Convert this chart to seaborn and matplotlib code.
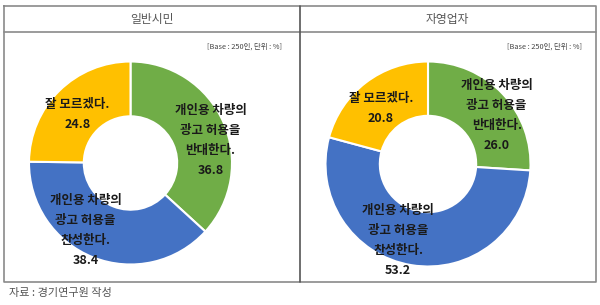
import numpy as np
import matplotlib
matplotlib.use("Agg")
import matplotlib.pyplot as plt
import seaborn as sns

sns.set_theme(style="white")
plt.rcParams['font.family'] = ['Noto Sans CJK KR', 'DejaVu Sans']

# ---- data ----
groups = ["일반시민", "자영업자"]
categories = ["개인용 차량의\n광고 허용을\n반대한다.",
              "개인용 차량의\n광고 허용을\n찬성한다.",
              "잘 모르겠다."]
values_citizen = [36.8, 38.4, 24.8]
values_self = [26.0, 53.2, 20.8]
base_note = "[Base : 250인, 단위 : %]"
source_note = "자료 : 경기연구원 작성"

colors = ["#70AD47", "#4472C4", "#FFC000"]
label_r = [0.82, 0.80, 0.71]
label_dang = [-8, -12, 3]

W, H = 600, 305
fig = plt.figure(figsize=(W / 100, H / 100), dpi=100)
fig.patch.set_facecolor("white")

# background frame axes in pixel coordinates
bg = fig.add_axes([0, 0, 1, 1], zorder=0)
bg.set_xlim(0, W)
bg.set_ylim(H, 0)
bg.axis("off")
lc = "#8a8a8a"
L, R, T, HB, B, MID = 3.5, 595.5, 5.5, 31.5, 282, 299.5
bg.plot([L, R, R, L, L], [T, T, B, B, T], color=lc, lw=1.2)
bg.plot([L, R], [HB, HB], color=lc, lw=1.2)
bg.plot([MID, MID], [T, B], color="#555555", lw=1.2)
bg.text((L + MID) / 2, (T + HB) / 2 + 0.5, groups[0], ha="center", va="center",
        fontsize=8.5, color="#555555")
bg.text((MID + R) / 2, (T + HB) / 2 + 0.5, groups[1], ha="center", va="center",
        fontsize=8.5, color="#555555")
bg.text(282, 47, base_note, ha="right", va="center", fontsize=5.3, color="#444444")
bg.text(582, 47, base_note, ha="right", va="center", fontsize=5.3, color="#444444")
bg.text(9, 293, source_note, ha="left", va="center", fontsize=8, color="#555555")


def donut(cx, cy, rad, vals, hole):
    ax = fig.add_axes([(cx - rad) / W, (H - cy - rad) / H, 2 * rad / W, 2 * rad / H], zorder=2)
    wedges, _ = ax.pie(vals, colors=colors, startangle=90, counterclock=False, radius=1,
                       wedgeprops=dict(width=1 - hole, edgecolor="white", linewidth=1.5))
    ax.set_xlim(-1, 1)
    ax.set_ylim(-1, 1)
    ax.set_aspect("equal")
    ax.axis("off")
    for i, (w, cat, v) in enumerate(zip(wedges, categories, vals)):
        ang = np.deg2rad((w.theta1 + w.theta2) / 2 + label_dang[i])
        x, y = label_r[i] * np.cos(ang), label_r[i] * np.sin(ang)
        ax.text(x, y, f"{cat}\n{v:.1f}", ha="center", va="center", multialignment="center",
                fontsize=9, fontweight="bold", color="#1a1a1a", linespacing=1.7,
                clip_on=False)
    return ax


donut(130.5, 163, 101.5, values_citizen, 0.46)
donut(428, 164, 102.5, values_self, 0.47)

fig.savefig("out.png", dpi=100, facecolor="white")
